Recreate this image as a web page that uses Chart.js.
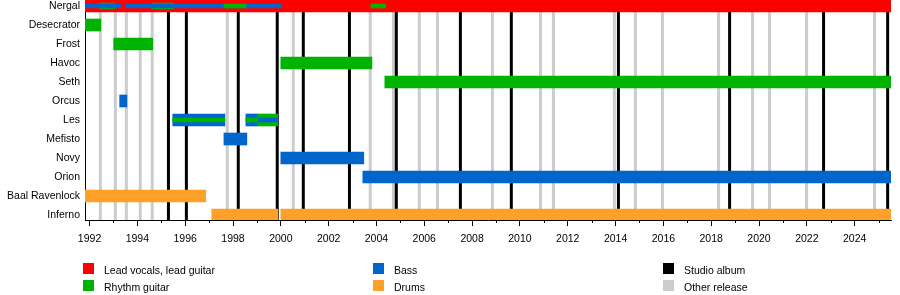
<!DOCTYPE html>
<html>
<head>
<meta charset="utf-8">
<title>Behemoth members timeline</title>
<script src="https://cdn.jsdelivr.net/npm/chart.js@4.4.1/dist/chart.umd.min.js"></script>
<style>
    html, body { margin: 0; background: #fff; }
</style>
</head>
<body>
<canvas id="timeline" width="900" height="295"></canvas>
<script>
(function () {
    "use strict";

    // Rows, top to bottom
    const members = [
        "Nergal", "Desecrator", "Frost", "Havoc", "Seth", "Orcus",
        "Les", "Mefisto", "Novy", "Orion", "Baal Ravenlock", "Inferno",
    ];

    const startYear = 1991.81;
    const endYear = 2025.52;

    // [member, from, to] in decimal years
    const vocalsBars = [["Nergal", 1991.81, 2025.52]];
    const rhythmBars = [
        ["Desecrator", 1991.81, 1992.47],
        ["Frost", 1993.01, 1994.64],
        ["Havoc", 2000.0, 2003.81],
        ["Seth", 2004.35, 2025.52],
        ["Les", 1999.04, 1999.87],
    ];
    const bassBars = [
        ["Orcus", 1993.26, 1993.56],
        ["Les", 1995.48, 1997.66],
        ["Les", 1998.54, 1999.04],
        ["Mefisto", 1997.62, 1998.58],
        ["Novy", 2000.0, 2003.47],
        ["Orion", 2003.43, 2025.52],
    ];
    const drumsBars = [
        ["Baal Ravenlock", 1991.81, 1996.86],
        ["Inferno", 1997.11, 1999.87],
        ["Inferno", 2000.0, 2025.52],
    ];

    // thin stripes inside the main bars
    const rhythmUnderStripes = [
        ["Nergal", 1992.43, 1993.05],
        ["Nergal", 1994.6, 1995.51],
    ];
    const bassStripes = [
        ["Nergal", 1991.84, 1993.31],
        ["Nergal", 1993.5, 2000.03],
        ["Les", 1999.04, 1999.87],
    ];
    const rhythmStripes = [
        ["Nergal", 1997.62, 1998.54],
        ["Nergal", 2003.77, 2004.39],
        ["Les", 1995.48, 1997.66],
        ["Les", 1998.54, 1999.04],
    ];

    const studioAlbums = [
        1995.3, 1996.05, 1998.22, 1999.85, 2000.94, 2002.87, 2004.83,
        2007.51, 2009.64, 2014.12, 2018.77, 2022.7, 2025.38,
    ];
    const otherReleases = [
        1992.45, 1993.08, 1993.54, 1994.12, 1994.62, 1997.76, 2000.52,
        2003.74, 2004.71, 2005.79, 2006.55, 2008.85, 2010.86, 2011.4,
        2013.95, 2014.83, 2015.96, 2018.31, 2019.73, 2020.44, 2021.99,
        2024.83,
    ];

    const majorYears = [
        1992, 1994, 1996, 1998, 2000, 2002, 2004, 2006, 2008, 2010, 2012,
        2014, 2016, 2018, 2020, 2022, 2024,
    ];
    const minorYears = [
        1993, 1995, 1997, 1999, 2001, 2003, 2005, 2007, 2009, 2011, 2013,
        2015, 2017, 2019, 2021, 2023, 2025,
    ];

    const colors = {
        vocals: "#ff0000",
        rhythm: "#00b300",
        bass: "#0066cc",
        drums: "#ffa028",
        studio: "#000000",
        other: "#cccccc",
    };

    const legendItems = [
        ["Lead vocals, lead guitar", colors.vocals],
        ["Rhythm guitar", colors.rhythm],
        ["Bass", colors.bass],
        ["Drums", colors.drums],
        ["Studio album", colors.studio],
        ["Other release", colors.other],
    ];

    const fontFamily = '"Liberation Sans", Arial, Helvetica, sans-serif';
    Chart.defaults.font.family = fontFamily;
    Chart.defaults.color = "#000";

    function toPoints(list) {
        return list.map(([name, from, to]) => ({
            x: [from, to],
            y: members.indexOf(name),
        }));
    }

    function barSet(label, list, color, thickness, order) {
        return {
            label: label,
            data: toPoints(list),
            backgroundColor: color,
            barThickness: thickness,
            order: order,
            grouped: false,
            borderWidth: 0,
            borderSkipped: false,
        };
    }

    // release lines behind the bars, minor ticks and the legend
    const decorations = {
        id: "decorations",
        beforeDatasetsDraw(chart) {
            const { ctx, chartArea, scales } = chart;
            ctx.save();
            ctx.lineWidth = 3;
            const drawLines = (years, color) => {
                ctx.strokeStyle = color;
                years.forEach((yr) => {
                    const px = scales.x.getPixelForValue(yr);
                    ctx.beginPath();
                    ctx.moveTo(px, chartArea.top);
                    ctx.lineTo(px, chartArea.bottom);
                    ctx.stroke();
                });
            };
            drawLines(otherReleases, colors.other);
            drawLines(studioAlbums, colors.studio);
            ctx.restore();
        },
        afterDraw(chart) {
            const { ctx, chartArea, scales } = chart;
            ctx.save();
            ctx.strokeStyle = "#000";
            ctx.lineWidth = 1;
            minorYears.forEach((yr) => {
                const px = Math.round(scales.x.getPixelForValue(yr)) + 0.5;
                ctx.beginPath();
                ctx.moveTo(px, chartArea.bottom);
                ctx.lineTo(px, chartArea.bottom + 3);
                ctx.stroke();
            });

            const colX = [83, 373, 663];
            const rowY = [263, 280];
            ctx.font = "10.5px " + fontFamily;
            ctx.textBaseline = "middle";
            ctx.textAlign = "left";
            legendItems.forEach(([text, color], i) => {
                const x = colX[Math.floor(i / 2)];
                const y = rowY[i % 2];
                ctx.fillStyle = color;
                ctx.fillRect(x, y, 11, 11);
                ctx.fillStyle = "#000";
                ctx.fillText(text, x + 21, y + 8);
            });
            ctx.restore();
        },
    };

    const ctx = document.getElementById("timeline").getContext("2d");
    new Chart(ctx, {
        type: "bar",
        data: {
            datasets: [
                barSet("Lead vocals, lead guitar", vocalsBars, colors.vocals, 12, 5),
                barSet("Rhythm guitar", rhythmBars, colors.rhythm, 12, 5),
                barSet("Bass", bassBars, colors.bass, 12, 5),
                barSet("Drums", drumsBars, colors.drums, 12, 5),
                barSet("Rhythm guitar (under)", rhythmUnderStripes, colors.rhythm, 6, 3),
                barSet("Bass (stripe)", bassStripes, colors.bass, 4, 2),
                barSet("Rhythm guitar (stripe)", rhythmStripes, colors.rhythm, 4, 1),
            ],
        },
        options: {
            indexAxis: "y",
            responsive: false,
            animation: false,
            events: [],
            layout: {
                padding: { left: 0, right: 9, top: 0, bottom: 0 },
            },
            plugins: {
                legend: { display: false },
                tooltip: { enabled: false },
            },
            scales: {
                x: {
                    type: "linear",
                    min: startYear,
                    max: endYear,
                    afterBuildTicks: (scale) => {
                        scale.ticks = majorYears.map((v) => ({ value: v }));
                    },
                    afterFit: (scale) => {
                        scale.height = 75;
                    },
                    ticks: {
                        autoSkip: false,
                        maxRotation: 0,
                        padding: 7,
                        font: { size: 10.5 },
                        callback: (v) => String(v),
                    },
                    grid: {
                        drawOnChartArea: false,
                        tickLength: 6,
                        color: "#000",
                    },
                    border: { color: "#000", width: 1 },
                },
                y: {
                    type: "linear",
                    reverse: true,
                    offset: false,
                    min: -6 / 19,
                    max: 11 + 5 / 19,
                    afterBuildTicks: (scale) => {
                        scale.ticks = members.map((_, i) => ({ value: i }));
                    },
                    afterFit: (scale) => {
                        scale.width = 85;
                        scale.paddingTop = 0;
                        scale.paddingBottom = 0;
                    },
                    ticks: {
                        autoSkip: false,
                        padding: 5,
                        font: { size: 10.5 },
                        callback: (v) => members[v],
                    },
                    grid: { display: false, drawTicks: false },
                    border: { color: "#000", width: 1 },
                },
            },
        },
        plugins: [decorations],
    });
})();
</script>
</body>
</html>
